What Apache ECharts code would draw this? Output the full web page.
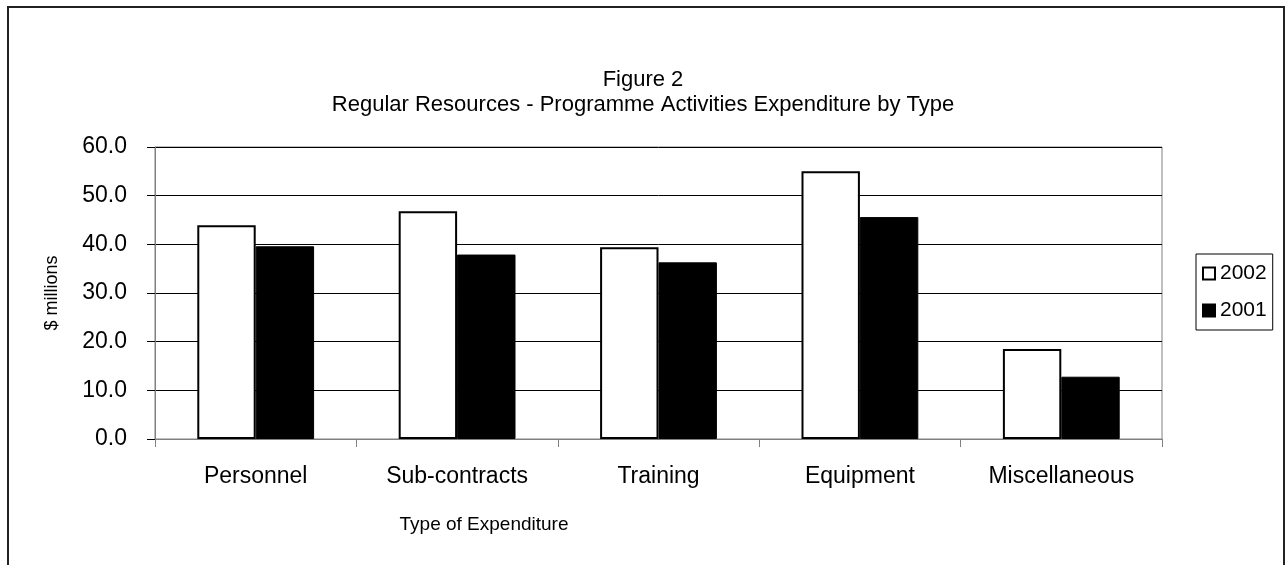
<!DOCTYPE html>
<html>
<head>
<meta charset="utf-8">
<script src="https://cdn.jsdelivr.net/npm/echarts@6/dist/echarts.min.js"></script>
<style>
	html, body { margin: 0; padding: 0; background: #fff; }
	#chart { width: 1286px; height: 565px; }
</style>
</head>
<body>
<div id="chart"></div>
<script>
// 数据
const categories = ['Personnel', 'Sub-contracts', 'Training', 'Equipment', 'Miscellaneous'];
const values2002 = [43.9, 46.8, 39.4, 55.0, 18.5];
const values2001 = [39.6, 37.9, 36.3, 45.6, 12.8];
const seriesNames = ['2002', '2001'];

const font = '"Liberation Sans", Arial, sans-serif';

let myChart = echarts.init(document.getElementById('chart'));
let option = {
	backgroundColor: '#fff',
	animation: false,
	title: [{
		text: 'Figure 2\nRegular Resources - Programme Activities Expenditure by Type',
		left: 'center',
		top: 62,
		textStyle: { fontFamily: font, fontSize: 22, fontWeight: 'normal', color: '#000', lineHeight: 25 }
	}, {// x轴标题，原图偏左
		text: 'Type of Expenditure',
		left: 479,
		textAlign: 'center',
		top: 510,
		textStyle: { fontFamily: font, fontSize: 19, fontWeight: 'normal', color: '#000' }
	}],
	graphic: [{//外框
		type: 'rect',
		shape: { x: 8, y: 7, width: 1276, height: 600 },
		style: { fill: 'none', stroke: '#222', lineWidth: 2 }
	}],
	legend: {
		orient: 'vertical',
		left: 1196,
		top: 254,
		width: 82,
		padding: [9, 6, 9, 6],
		itemGap: 16,
		itemWidth: 12,
		itemHeight: 12,
		icon: 'rect',
		borderColor: '#000',
		borderWidth: 1,
		data: seriesNames,
		textStyle: { fontFamily: font, fontSize: 21, color: '#000' }
	},
	grid: {
		left: 155, right: 124, top: 147, bottom: 126,
		show: true, borderColor: '#808080', borderWidth: 1,
		containLabel: false
	},
	xAxis: {
		type: 'category',
		data: categories,
		axisLine: { lineStyle: { color: '#808080', width: 1 } },
		axisTick: { show: true, length: 8, lineStyle: { color: '#808080' } },
		axisLabel: { fontFamily: font, fontSize: 23, color: '#000', margin: 26 }
	},
	yAxis: {
		type: 'value',
		min: 0, max: 60, interval: 10,
		name: '$ millions',
		nameLocation: 'middle',
		nameGap: 94,
		nameRotate: 90,
		nameTextStyle: { fontFamily: font, fontSize: 18, color: '#000' },
		axisLine: { show: true, lineStyle: { color: '#808080', width: 1 } },
		axisTick: { show: true, length: 8, lineStyle: { color: '#000' } },
		axisLabel: {
			fontFamily: font, fontSize: 23, color: '#000', margin: 28,
			formatter: function (v) { return v.toFixed(1); }
		},
		splitLine: { lineStyle: { color: '#000', width: 1 } }
	},
	series: [{
		name: seriesNames[0],
		type: 'bar',
		data: values2002,
		barGap: '0%',
		barCategoryGap: '42%',
		itemStyle: { color: '#fff', borderColor: '#000', borderWidth: 2 }
	}, {
		name: seriesNames[1],
		type: 'bar',
		data: values2001,
		itemStyle: { color: '#000', borderColor: '#000', borderWidth: 1 }
	}]
};
myChart.setOption(option, true);
</script>
</body>
</html>
